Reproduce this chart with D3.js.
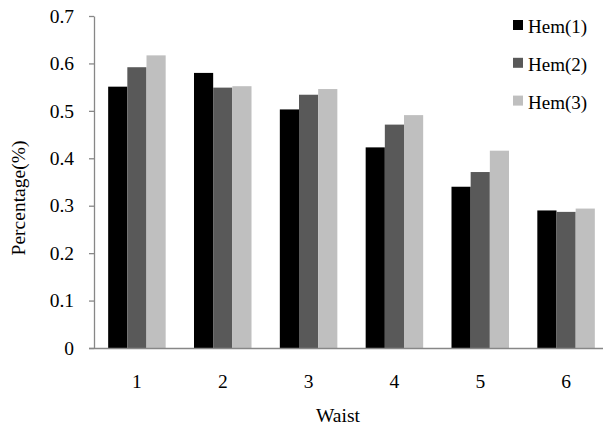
<!DOCTYPE html>
<html>
<head>
<meta charset="utf-8">
<script src="https://cdn.jsdelivr.net/npm/d3@7"></script>
<style>
  body { margin: 0; background: #fff; }
  svg text { font-family: "Liberation Serif", "Times New Roman", "DejaVu Serif", serif !important; }
</style>
</head>
<body>
<svg id="chart" width="603" height="428"></svg>
<script>
const categories = ["1", "2", "3", "4", "5", "6"];
const seriesNames = ["Hem(1)", "Hem(2)", "Hem(3)"];
const hem1 = [0.551, 0.580, 0.503, 0.423, 0.340, 0.290];
const hem2 = [0.592, 0.549, 0.534, 0.471, 0.371, 0.287];
const hem3 = [0.617, 0.552, 0.546, 0.491, 0.416, 0.294];
const yTicks = [0, 0.1, 0.2, 0.3, 0.4, 0.5, 0.6, 0.7];

const colors = ["#000000", "#595959", "#bfbfbf"];
const marginTop = 16;
const marginLeft = 94;
const plotRight = 609;
const plotBottom = 348;

const series = [hem1, hem2, hem3];
const data = categories.map((c, i) => ({
  cat: c,
  values: series.map((s, j) => ({ key: seriesNames[j], value: s[i] })),
}));

const svg = d3.select("#chart");

const x = d3
  .scaleBand()
  .domain(categories)
  .range([marginLeft, plotRight])
  .paddingInner(0.33)
  .paddingOuter(0.165);

const xInner = d3
  .scaleBand()
  .domain(seriesNames)
  .range([0, x.bandwidth()]);

const y = d3.scaleLinear().domain([0, 0.7]).range([plotBottom, marginTop]);

// bars
svg
  .append("g")
  .selectAll("g")
  .data(data)
  .join("g")
  .attr("transform", (d) => `translate(${x(d.cat)},0)`)
  .selectAll("rect")
  .data((d) => d.values)
  .join("rect")
  .attr("x", (d) => xInner(d.key))
  .attr("y", (d) => y(d.value))
  .attr("width", xInner.bandwidth())
  .attr("height", (d) => y(0) - y(d.value))
  .attr("fill", (d, i) => colors[i]);

// y axis
const yAxis = svg
  .append("g")
  .attr("transform", `translate(${marginLeft},0)`)
  .call(
    d3
      .axisLeft(y)
      .tickValues(yTicks)
      .tickFormat((d) => (d === 0 ? "0" : d3.format(".1f")(d)))
      .tickSize(5)
      .tickSizeOuter(0)
      .tickPadding(15),
  );
yAxis.attr("font-family", null);
yAxis.selectAll("path, line").attr("stroke", "#878787").attr("stroke-width", 1.3);
yAxis.selectAll("text").style("font-size", "19.5px").attr("fill", "#000");

// x axis
const xAxis = svg
  .append("g")
  .attr("transform", `translate(0,${plotBottom})`)
  .call(d3.axisBottom(x).tickSize(0).tickSizeOuter(0).tickPadding(26));
xAxis.attr("font-family", null);
xAxis.select(".domain").attr("d", `M${marginLeft - 5},0.5H${plotRight}`);
xAxis.selectAll("path").attr("stroke", "#878787").attr("stroke-width", 1.3);
xAxis.selectAll("text").style("font-size", "19.5px").attr("fill", "#000");

// axis titles
svg
  .append("text")
  .attr("x", 338)
  .attr("y", 422)
  .attr("text-anchor", "middle")
  .style("font-size", "19.5px")
  .text("Waist");

svg
  .append("text")
  .attr("transform", "rotate(-90)")
  .attr("x", -198)
  .attr("y", 25)
  .attr("text-anchor", "middle")
  .style("font-size", "19.5px")
  .text("Percentage(%)");

// legend
const legend = svg.append("g").attr("transform", "translate(513,25)");
seriesNames.forEach((name, i) => {
  const row = legend.append("g").attr("transform", `translate(0,${i * 37.8})`);
  row
    .append("rect")
    .attr("x", 0)
    .attr("y", -5)
    .attr("width", 10)
    .attr("height", 10)
    .attr("fill", colors[i]);
  row
    .append("text")
    .attr("x", 15)
    .attr("y", 8)
    .style("font-size", "19px")
    .text(name);
});
</script>
</body>
</html>
